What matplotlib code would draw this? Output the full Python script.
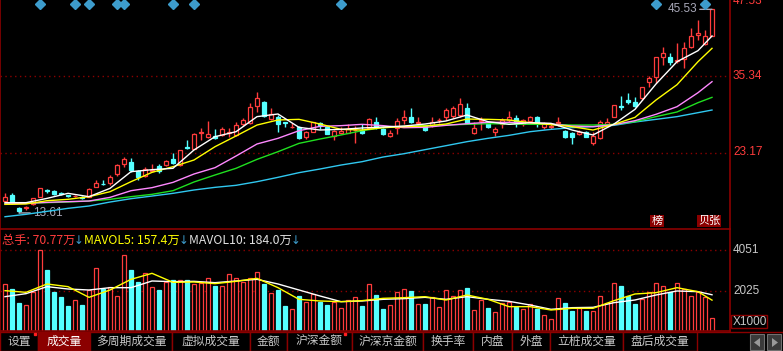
import matplotlib
matplotlib.use("Agg")
import matplotlib.pyplot as plt
from matplotlib.patches import Rectangle, Polygon

plt.rcParams['font.family'] = ['Noto Sans CJK SC', 'DejaVu Sans']

# ---- data ----
opens = [15.55, 16.40, 14.34, 14.34, 15.03, 16.19, 17.19, 17.09, 16.72, 16.40,
         16.24, 16.14, 16.19, 17.78, 18.25, 18.31, 19.79, 21.37, 21.64, 20.32,
         19.52, 20.32, 21.11, 21.21, 22.17, 21.21, 24.12, 23.81, 26.24, 25.61,
         25.87, 26.03, 26.29, 26.03, 27.67, 27.93, 30.58, 31.27, 28.46, 28.89,
         27.99, 27.19, 27.30, 25.61, 26.50, 27.93, 27.19, 25.82, 26.35, 26.35,
         26.72, 26.77, 27.03, 28.09, 26.87, 25.82, 27.14, 28.36, 28.89, 27.88,
         27.40, 27.56, 28.30, 28.78, 29.04, 29.15, 30.26, 26.24, 28.20, 27.99,
         26.40, 27.67, 28.36, 28.73, 27.67, 28.25, 28.89, 27.25, 27.25, 27.88,
         26.61, 26.24, 26.08, 26.45, 24.76, 25.45, 27.40, 28.89, 30.58, 31.53,
         31.21, 31.90, 34.33, 35.13, 38.30, 38.41, 37.77, 37.98, 39.89, 41.79,
         40.36, 41.74]
highs = [16.72, 16.72, 14.50, 14.76, 16.03, 17.62, 17.46, 17.25, 16.93, 16.51,
         16.51, 16.29, 17.51, 18.83, 18.83, 19.63, 21.32, 22.54, 22.27, 20.42,
         20.95, 21.37, 21.37, 22.01, 23.07, 23.60, 25.18, 26.24, 27.14, 28.20,
         26.93, 27.25, 27.14, 28.09, 28.62, 31.00, 32.80, 31.42, 30.21, 29.15,
         28.09, 27.83, 27.40, 26.66, 28.09, 28.04, 27.40, 26.77, 27.30, 27.72,
         27.40, 27.72, 28.62, 28.89, 27.03, 26.77, 28.62, 29.94, 30.31, 28.89,
         27.56, 28.89, 28.67, 30.26, 30.58, 31.85, 31.11, 28.04, 28.78, 28.09,
         27.30, 28.62, 29.78, 29.15, 28.51, 29.04, 28.99, 27.99, 27.83, 28.89,
         26.77, 26.50, 26.77, 26.61, 26.50, 28.36, 28.62, 30.74, 32.16, 32.59,
         32.06, 33.65, 35.34, 38.41, 39.99, 38.94, 40.63, 40.79, 42.90, 44.23,
         42.64, 45.92]
lows = [15.34, 15.03, 13.61, 14.07, 14.87, 16.08, 16.77, 16.51, 16.40, 16.19,
        16.08, 15.77, 16.08, 17.72, 18.04, 18.04, 19.52, 20.95, 20.16, 18.83,
        19.36, 20.16, 20.00, 21.06, 21.37, 21.11, 23.75, 23.70, 25.18, 25.55,
        25.39, 25.76, 25.61, 25.87, 27.46, 27.67, 29.68, 28.89, 28.36, 26.50,
        27.30, 27.14, 25.29, 25.29, 26.40, 26.98, 26.13, 25.18, 26.13, 26.24,
        24.76, 26.13, 26.93, 26.93, 26.03, 25.71, 26.19, 27.72, 27.93, 27.56,
        26.66, 27.30, 27.83, 28.36, 28.62, 28.89, 27.83, 26.13, 26.77, 27.14,
        25.87, 27.03, 28.09, 27.30, 27.40, 27.83, 27.30, 26.87, 26.93, 27.40,
        25.45, 24.49, 25.98, 25.61, 24.39, 25.29, 27.19, 28.78, 29.94, 30.90,
        30.47, 31.53, 33.54, 34.28, 37.08, 37.08, 37.35, 36.56, 39.73, 41.05,
        40.26, 41.74]
closes = [16.08, 15.13, 13.97, 14.50, 15.92, 17.51, 17.04, 16.61, 16.61, 16.29,
          16.35, 15.98, 17.35, 18.41, 18.15, 19.36, 21.21, 22.17, 20.42, 19.26,
          20.58, 20.47, 20.32, 21.85, 21.48, 23.54, 23.86, 26.08, 26.40, 26.08,
          25.45, 26.87, 26.40, 27.51, 28.36, 30.37, 31.79, 29.04, 29.31, 27.72,
          27.88, 27.30, 25.55, 26.40, 27.99, 27.56, 26.19, 26.61, 26.66, 26.93,
          26.82, 26.24, 28.51, 27.19, 26.19, 26.35, 28.20, 28.89, 28.04, 27.99,
          26.77, 28.09, 28.41, 29.94, 30.21, 30.90, 27.93, 27.09, 28.36, 27.30,
          26.93, 28.36, 28.78, 27.93, 28.36, 28.78, 27.93, 27.83, 27.35, 27.99,
          25.61, 25.61, 26.50, 25.71, 25.87, 27.99, 28.04, 30.68, 30.37, 31.27,
          30.58, 33.54, 35.02, 38.30, 39.04, 37.51, 37.93, 39.73, 41.69, 42.11,
          41.69, 45.92]
# volume in thousands of shares (axis says X1000)
volumes = [2372, 2125, 1448, 1334, 1991, 4051, 3063, 1991, 1744, 1300,
           1581, 1334, 2075, 3147, 2110, 2238, 1779, 3805, 3063, 2470,
           2900, 2223, 2075, 2485, 2545, 2569, 2545, 2347, 2406, 2653,
           2273, 2273, 2866, 2653, 2470, 2668, 2940, 2372, 1912, 2075,
           1285, 1136, 1779, 1482, 1892, 1497, 1334, 1482, 1171, 1581,
           1715, 1285, 2372, 1828, 1136, 1334, 1962, 2110, 2026, 1369,
           1383, 1715, 1220, 2075, 1779, 2075, 2159, 1087, 1581, 1171,
           973, 1418, 1497, 1250, 1136, 1369, 1136, 840, 628, 1665,
           1448, 1052, 1171, 1052, 1038, 1779, 1448, 2406, 2288, 1779,
           1383, 1616, 1962, 2406, 2273, 1962, 2406, 2110, 1779, 1962,
           1715, 708]

# moving averages, read every third bar
ma_idx = list(range(0, 100, 3)) + [101]
ma5 = [15.24, 15.24, 15.92, 16.72, 16.19, 17.51, 20.16, 20.47, 20.69, 23.60,
       25.71, 26.50, 28.89, 29.31, 27.19, 26.77, 26.87, 27.09, 27.25, 27.40,
       27.72, 28.20, 29.15, 28.09, 27.67, 27.93, 27.83, 26.77, 25.98, 27.72,
       30.05, 34.07, 37.61, 39.36, 41.69]
ma10 = [14.97, 15.03, 15.55, 15.77, 16.19, 16.98, 18.57, 20.05, 20.95, 22.01,
        24.12, 25.82, 27.56, 28.36, 28.46, 27.72, 26.87, 26.77, 27.14, 27.30,
        27.40, 27.72, 28.51, 28.46, 28.36, 27.93, 27.62, 27.30, 26.77, 27.67,
        28.78, 31.53, 33.96, 37.61, 39.73]
ma20 = [15.03, 15.13, 15.29, 15.40, 15.50, 16.08, 17.14, 17.62, 18.46, 19.79,
        20.79, 22.64, 24.55, 25.45, 26.66, 27.35, 27.46, 27.67, 27.46, 27.14,
        27.19, 27.51, 27.77, 27.99, 27.99, 27.93, 27.72, 27.40, 27.30, 27.62,
        28.25, 29.26, 30.47, 32.69, 34.44]
ma30 = [15.13, 15.18, 15.24, 15.34, 15.50, 15.77, 16.19, 16.56, 17.14, 18.52,
        19.63, 20.69, 22.11, 23.33, 24.65, 25.34, 25.98, 26.66, 27.14, 27.35,
        27.46, 27.56, 27.67, 27.77, 27.72, 27.67, 27.67, 27.56, 27.56, 27.67,
        28.09, 28.89, 29.63, 31.11, 31.95]
ma60 = [13.01, 13.39, 13.86, 14.34, 14.71, 15.34, 15.87, 16.29, 16.72, 17.25,
        17.67, 17.99, 18.57, 19.26, 20.00, 20.58, 21.21, 21.74, 22.48, 23.01,
        23.65, 24.28, 24.92, 25.45, 25.92, 26.50, 26.87, 27.14, 27.30, 27.51,
        28.04, 28.46, 28.89, 29.52, 29.94]
mavol5 = [2042, 1960, 2372, 2240, 1713, 2075, 2602, 2899, 2454, 2471,
          2388, 2503, 2652, 2190, 1614, 1532, 1499, 1548, 1663, 1696,
          1746, 1581, 1828, 1614, 1252, 1252, 1087, 1169, 1169, 1548,
          1878, 1943, 2190, 1993, 1574]
mavol10 = [1746, 1894, 2240, 2125, 2075, 2190, 2190, 2520, 2487, 2503,
           2437, 2520, 2602, 2372, 2075, 1779, 1499, 1532, 1614, 1647,
           1713, 1614, 1746, 1614, 1515, 1334, 1120, 1202, 1219, 1449,
           1581, 1828, 2026, 1993, 1840]

price_ticks = [47.53, 35.34, 23.17]
vol_ticks = [4051, 2025]
signal_idx = [5, 10, 12, 16, 17, 24, 27, 48, 93, 100]
low_label = "13.61"
high_label = "45.53"
header = [("总手: 70.77万", '#ff3c3c'), ("MAVOL5: 157.4万", '#ffff00'),
          ("MAVOL10: 184.0万", '#e0e0e0')]
tabs = ["设置", "成交量", "多周期成交量", "虚拟成交量", "金额", "沪深金额",
        "沪深京金额", "换手率", "内盘", "外盘", "立桩成交量", "盘后成交量"]

RED = '#ff3c3c'
CYAN = '#55ffff'
FRAME = '#8b0000'

W, H = 783, 351
fig = plt.figure(figsize=(W / 100, H / 100), dpi=100, facecolor='black')

def px_axes(x0, y0, x1, y1):
    return fig.add_axes([x0 / W, 1 - y1 / H, (x1 - x0) / W, (y1 - y0) / H])

ax = px_axes(0, 0, 730, 229)
axv = px_axes(0, 229, 730, 331)
n = len(closes)
xs = list(range(n))
for a in (ax, axv):
    a.set_facecolor('none')
    a.set_xlim(-5 / 7, 725 / 7)
    a.set_xticks([])
    a.set_yticks([])
    for s in a.spines.values():
        s.set_color(FRAME)
        s.set_linewidth(1.2)
    a.spines['top'].set_visible(False)
ax.set_ylim(11.06, 47.40)
axv.set_ylim(49, 5089)

# grid
for t in price_ticks[1:]:
    ax.axhline(t, color=FRAME, ls=(0, (1, 2.5)), lw=1)
for t in vol_ticks:
    axv.axhline(t, color=FRAME, ls=(0, (1, 2.5)), lw=1)

# candles
for i in xs:
    o, h, l, c = opens[i], highs[i], lows[i], closes[i]
    up = c >= o
    col = RED if up else CYAN
    ax.vlines(i, l, h, color=col, lw=1, zorder=2)
    hgt = max(abs(c - o), 0.06)
    ax.bar(i, hgt, bottom=min(o, c), width=0.68, facecolor='black' if up else CYAN,
           edgecolor=col, lw=0.9, zorder=3)
    axv.bar(i, volumes[i], width=0.68, facecolor='black' if up else CYAN,
            edgecolor=col, lw=0.9, zorder=2)

ax.plot(ma_idx, ma60, color='#30c8f0', lw=1, zorder=4)
ax.plot(ma_idx, ma30, color='#20e020', lw=1, zorder=4)
ax.plot(ma_idx, ma20, color='#ff88ff', lw=1, zorder=4)
ax.plot(ma_idx, ma10, color='#ffff00', lw=1, zorder=4)
ax.plot(ma_idx, ma5, color='white', lw=1, zorder=4)
axv.plot(ma_idx, mavol10, color='white', lw=1, zorder=3)
axv.plot(ma_idx, mavol5, color='#ffff00', lw=1, zorder=3)

# signal diamonds on top
ax.plot(signal_idx, [46.77] * len(signal_idx), 'D', color='#3d9ccc', ms=5.5,
        clip_on=False, zorder=5)

# high / low marks
ax.annotate(low_label, xy=(2, lows[2]), xytext=(14, 0), textcoords='offset pixels',
            ha='left', va='center', color='#a8a8b8', fontsize=8.5, family='Liberation Sans',
            arrowprops=dict(arrowstyle='-', color='#a8a8b8', lw=1, shrinkA=0, shrinkB=0))
ax.annotate(high_label, xy=(101, highs[101]), xytext=(-15, 0), textcoords='offset pixels',
            ha='right', va='center', color='#a8a8b8', fontsize=8.5, family='Liberation Sans',
            arrowprops=dict(arrowstyle='-', color='#a8a8b8', lw=1, shrinkA=0, shrinkB=0))

# overlay in pixel coords
ov = fig.add_axes([0, 0, 1, 1], zorder=10)
ov.set_xlim(0, W)
ov.set_ylim(H, 0)
ov.axis('off')
ov.patch.set_alpha(0)

for t in price_ticks:
    yy = 75.6 + (35.34 - t) / 0.1587
    ov.text(733, max(yy, 1), f"{t:.2f}", color=RED, fontsize=8.5, family='Liberation Sans',
            va='center', ha='left')
for t in vol_ticks:
    yy = 331 - (t - 49) / 49.41
    ov.text(733, yy, str(t), color='#c8c8c8', fontsize=8.5, family='Liberation Sans',
            va='center', ha='left')
ov.add_patch(Rectangle((731, 315), 36, 13, fill=False, ec=FRAME, lw=1))
ov.text(733, 322, "X1000", color='#c8c8c8', fontsize=8.5, family='Liberation Sans',
        va='center', ha='left')

# volume header
hx = [2, 84, 189]
arrow_x = [74, 179, 291]
for (txt, col), x0, xa in zip(header, hx, arrow_x):
    ov.text(x0, 240, txt, color=col, fontsize=8.8, va='center', ha='left')
    ov.text(xa, 241, "↓", color='#3d9ccc', fontsize=8.5, va='center', ha='left',
            family=['DejaVu Sans'])

# small tags at bottom of price panel
ov.text(657, 221, "榜", color='white', fontsize=8, va='center', ha='center',
        bbox=dict(boxstyle='square,pad=0.1', fc=FRAME, ec='none'))
ov.text(709, 221, "贝张", color='white', fontsize=8, va='center', ha='center',
        bbox=dict(boxstyle='square,pad=0.1', fc=FRAME, ec='none'))

# tab bar
edges = [0, 38, 90, 172, 250, 287, 352, 423, 473, 512, 550, 623, 697]
for k, name in enumerate(tabs):
    x0, x1 = edges[k], edges[k + 1]
    sel = (k == 1)
    ov.add_patch(Rectangle((x0, 332), x1 - x0, 19, fc=FRAME if sel else 'black',
                           ec=FRAME, lw=1))
    ov.text((x0 + x1) / 2, 341.5, name, color='white' if sel else '#c8c8c8',
            fontsize=8.5, va='center', ha='center')
for xd in (35, 345):
    ov.plot(xd, 334, 's', color='#ff2020', ms=2)
ov.plot([697, 783], [332, 332], color=FRAME, lw=1)
for bx, tri in ((750, [(760, 338), (760, 347), (754, 342.5)]),
                (767, [(772, 338), (772, 347), (778, 342.5)])):
    ov.add_patch(Rectangle((bx, 334), 14, 16, fc='#3a3a3a', ec='#707070', lw=0.8))
    ov.add_patch(Polygon(tri, closed=True, fc='#9a9a9a', ec='none'))

fig.savefig("out.png", dpi=100, facecolor='black')
